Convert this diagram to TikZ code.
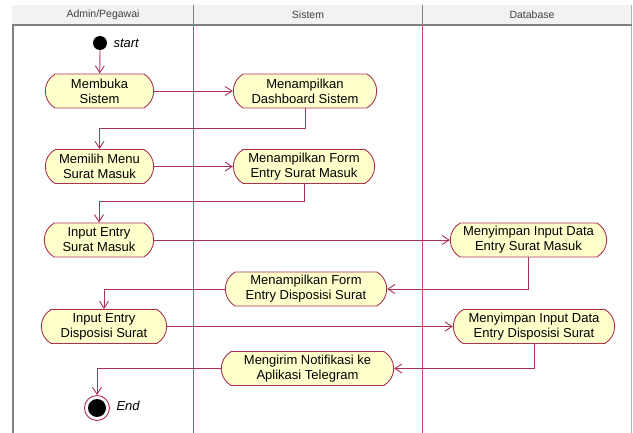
\documentclass[tikz,border=0pt]{standalone}
\usepackage{fontspec}
\setmainfont{Liberation Sans}
\usetikzlibrary{arrows.meta,shapes.misc}

\definecolor{garis}{RGB}{170,50,85}
\definecolor{lajurmerah}{RGB}{200,70,115}
\definecolor{isian}{RGB}{255,255,204}
\definecolor{kepala}{RGB}{242,242,242}

\begin{document}
\begin{tikzpicture}[x=1pt,y=-1pt,
	aktivitas/.style={rounded rectangle,rounded rectangle arc length=120,
		draw=garis,fill=isian,line width=0.9pt,
		align=center,minimum height=34pt,inner ysep=2pt,
		font=\fontsize{13}{15}\selectfont},
	panah/.style={draw=garis,line width=0.9pt,-{Straight Barb[length=7pt,width=9pt]}},
	judul/.style={font=\fontsize{10.5}{12}\selectfont,text=black!75}]

\useasboundingbox (0,0) rectangle (633,433);

\def\lajur{
	\fill[kepala] (12,5) rectangle (632,25);
	\draw[gray!60,line width=0.6pt] (631,5) -- (631,433);
	\draw[gray,line width=2pt] (12,25) -- (632,25);
	\draw[gray,line width=2pt] (12.5,25) -- (12.5,433);
	\draw[gray,line width=1pt] (193,5) -- (193,25);
	\draw[gray,line width=1pt] (422,5) -- (422,25);
	\draw[lajurmerah,line width=1pt] (193,26) -- (193,433);
	\draw[lajurmerah,line width=1pt] (422,26) -- (422,433);
	\node[judul] (admin) at (103,15) {Admin/Pegawai};
	\node[judul] (sistem) at (308,15) {Sistem};
	\node[judul] (database) at (532,15) {Database};
}

\lajur

% awal
\fill (100,43) circle[radius=7];
\coordinate (mulai) at (100,50);
\node[anchor=west,font=\fontsize{13}{15}\selectfont\itshape] (labelmulai) at (110,43) {start};

% aktivitas
\node[aktivitas,minimum width=115pt] (membuka) at (99.5,91) {Membuka\\Sistem};
\node[aktivitas,minimum width=150pt] (dashboard) at (305,91) {Menampilkan\\Dashboard Sistem};
\node[aktivitas,minimum width=115pt] (memilih) at (99.5,166.5) {Memilih Menu\\Surat Masuk};
\node[aktivitas,minimum width=148pt] (formsurat) at (304,166.5) {Menampilkan Form\\Entry Surat Masuk};
\node[aktivitas,minimum width=116pt] (inputsurat) at (99,240) {Input Entry\\Surat Masuk};
\node[aktivitas,minimum width=163pt] (simpansurat) at (528.5,240) {Menyimpan Input Data\\Entry Surat Masuk};
\node[aktivitas,minimum width=168pt] (formdisposisi) at (306,289) {Menampilkan Form\\Entry Disposisi Surat};
\node[aktivitas,minimum width=132pt] (inputdisposisi) at (104,326.5) {Input Entry\\Disposisi Surat};
\node[aktivitas,minimum width=168pt] (simpandisposisi) at (534,326.5) {Menyimpan Input Data\\Entry Disposisi Surat};
\node[aktivitas,minimum width=179pt] (notifikasi) at (307.5,368.5) {Mengirim Notifikasi ke\\Aplikasi Telegram};

% akhir
\node[circle,draw=garis,fill=white,line width=0.9pt,minimum size=25pt,inner sep=0pt] (akhir) at (97,408) {};
\fill (akhir) circle[radius=9];
\node[anchor=west,font=\fontsize{13}{15}\selectfont\itshape] (labelakhir) at (113,406) {End};

% alur
\draw[panah] (mulai) -- (membuka);
\draw[panah] (membuka.east) -- (dashboard.west);
\draw[panah] (dashboard.south) -- ++(0,20) -| (memilih.north);
\draw[panah] (memilih.east) -- (formsurat.west);
\draw[panah] (formsurat.south) -- ++(0,18) -| (inputsurat.north);
\draw[panah] (inputsurat.east) -- (simpansurat.west);
\draw[panah] (simpansurat.south) |- (formdisposisi.east);
\draw[panah] (formdisposisi.west) -| (inputdisposisi.north);
\draw[panah] (inputdisposisi.east) -- (simpandisposisi.west);
\draw[panah] (simpandisposisi.south) |- (notifikasi.east);
\draw[panah] (notifikasi.west) -| (akhir.north);

\end{tikzpicture}
\end{document}
